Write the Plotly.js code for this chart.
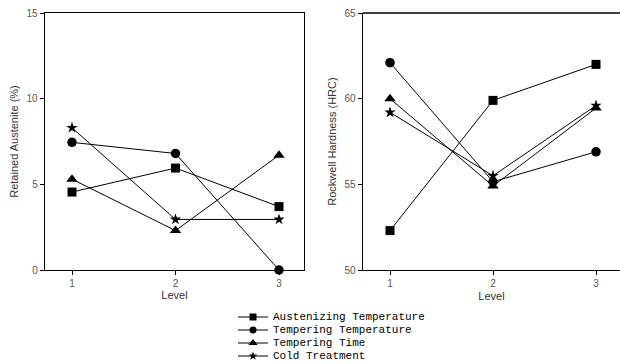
<!DOCTYPE html>
<html>
<head>
<meta charset="utf-8">
<script src="https://cdn.plot.ly/plotly-3.0.1.min.js"></script>
<style>html,body{margin:0;padding:0;background:#fff;}#chart{width:620px;height:364px;}</style>
</head>
<body>
<div id="chart"></div>
<script>
// ---- data ----
const levels = [1, 2, 3];
const seriesNames = ["Austenizing Temperature", "Tempering Temperature", "Tempering Time", "Cold Treatment"];
const seriesSymbols = ["square", "circle", "triangle-up", "star"];

// Retained Austenite (%)
const raAustenizing = [4.55, 5.95, 3.7];
const raTemperingTemp = [7.45, 6.8, 0];
const raTemperingTime = [5.3, 2.3, 6.7];
const raCold = [8.3, 2.95, 2.95];

// Rockwell Hardness (HRC)
const hrcAustenizing = [52.3, 59.9, 62.0];
const hrcTemperingTemp = [62.1, 55.15, 56.9];
const hrcTemperingTime = [60.0, 54.9, 59.45];
const hrcCold = [59.2, 55.5, 59.6];

const raTicks = [0, 5, 10, 15];
const hrcTicks = [50, 55, 60, 65];
const legendRows = [0, 1, 2, 3];

// ---- styles ----
const W = 620, H = 364;
const markerSizes = [9, 9.5, 10, 8.5];
const legendMarkerSizes = [7, 7, 8, 6.5];
const raSeries = [raAustenizing, raTemperingTemp, raTemperingTime, raCold];
const hrcSeries = [hrcAustenizing, hrcTemperingTemp, hrcTemperingTime, hrcCold];

const traces = [];
function addSeries(ys, xa, ya) {
  ys.forEach((y, i) => {
    traces.push({
      x: levels, y: y, xaxis: xa, yaxis: ya, type: "scatter", mode: "lines+markers",
      name: seriesNames[i], showlegend: false, cliponaxis: false,
      line: {color: "#000", width: 1},
      marker: {symbol: seriesSymbols[i], size: markerSizes[i], color: "#000"}
    });
  });
}
addSeries(raSeries, "x", "y");
addSeries(hrcSeries, "x2", "y2");

// legend samples on a hidden axis
const annotations = [];
legendRows.forEach((r, i) => {
  traces.push({
    x: [0, 1], y: [r, r], xaxis: "x3", yaxis: "y3", type: "scatter", mode: "lines",
    showlegend: false, hoverinfo: "skip", cliponaxis: false,
    line: {color: "#000", width: 1}
  });
  traces.push({
    x: [0.5], y: [r], xaxis: "x3", yaxis: "y3", type: "scatter", mode: "markers",
    showlegend: false, hoverinfo: "skip", cliponaxis: false,
    marker: {symbol: seriesSymbols[i], size: legendMarkerSizes[i], color: "#000"}
  });
  annotations.push({
    xref: "x3", yref: "y3", x: 1, y: r, text: seriesNames[i], showarrow: false,
    xanchor: "left", yanchor: "middle", xshift: 4, height: 12, borderpad: 0,
    font: {family: "Liberation Mono, DejaVu Sans Mono, monospace", size: 11, color: "#000"}
  });
});

const tickFont = {family: "Liberation Sans, Arial, sans-serif", size: 10, color: "#555"};
const titleFont = {family: "Liberation Sans, Arial, sans-serif", size: 11, color: "#333"};

const axisCommon = {
  showgrid: false, zeroline: false, showline: true, linecolor: "#000", linewidth: 1.3,
  ticks: "outside", ticklen: 4, tickwidth: 1, tickcolor: "#000", tickfont: tickFont,
  fixedrange: true
};

const layout = {
  width: W, height: H,
  margin: {l: 0, r: 0, t: 0, b: 0},
  paper_bgcolor: "#fff", plot_bgcolor: "#fff",
  showlegend: false,
  xaxis: Object.assign({}, axisCommon, {
    domain: [45 / W, 304 / W], range: [1 - 27 / 103.5, 3 + 25 / 103.5],
    tickvals: levels, ticktext: levels.map(String), mirror: true, anchor: "y",
    title: {text: "Level", font: titleFont, standoff: 1}
  }),
  yaxis: Object.assign({}, axisCommon, {
    domain: [1 - 270 / H, 1 - 13 / H], range: [0, 15],
    tickvals: raTicks, mirror: true, anchor: "x",
    title: {text: "Retained Austenite (%)", font: titleFont, standoff: 5}
  }),
  xaxis2: Object.assign({}, axisCommon, {
    domain: [363 / W, 1], range: [1 - 27 / 103, 3 + 24 / 103],
    tickvals: levels, ticktext: levels.map(String), mirror: false, anchor: "y2",
    title: {text: "Level", font: titleFont, standoff: 4}
  }),
  yaxis2: Object.assign({}, axisCommon, {
    domain: [1 - 270 / H, 1 - 13 / H], range: [50, 65],
    tickvals: hrcTicks, mirror: false, anchor: "x2",
    title: {text: "Rockwell Hardness (HRC)", font: titleFont, standoff: 5}
  }),
  xaxis3: {domain: [238 / W, 268 / W], range: [0, 1], visible: false, fixedrange: true, anchor: "y3"},
  yaxis3: {domain: [1 - 362.5 / H, 1 - 310.5 / H], range: [3.5, -0.5], visible: false, fixedrange: true, anchor: "x3"},
  shapes: [
    // top border of the right panel
    {type: "line", xref: "x2 domain", yref: "y2 domain", x0: 0, x1: 1, y0: 1, y1: 1, line: {color: "#000", width: 1.3}}
  ],
  annotations: annotations
};

Plotly.newPlot("chart", traces, layout, {displayModeBar: false, staticPlot: true});
</script>
</body>
</html>
